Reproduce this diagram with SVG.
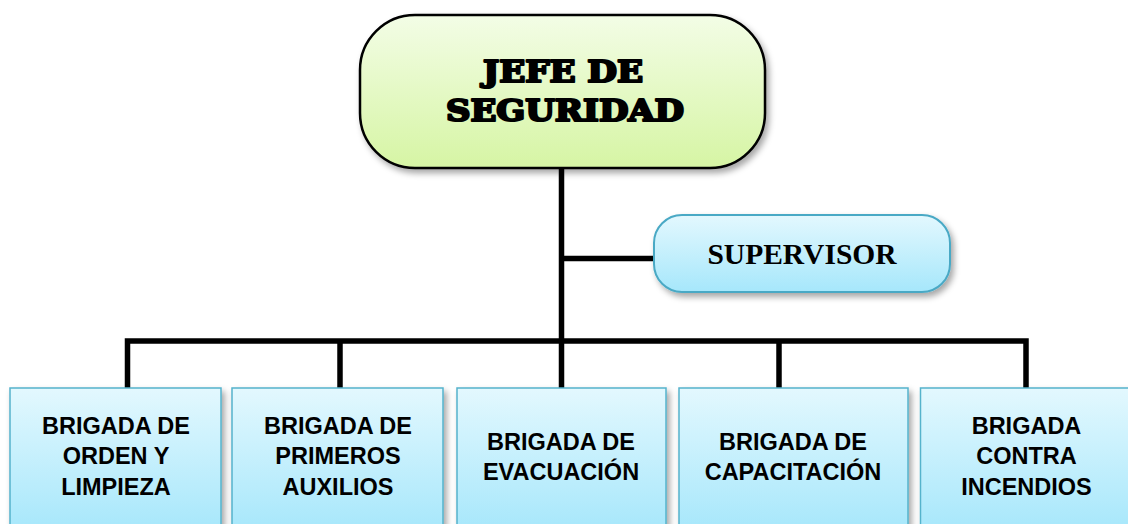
<svg xmlns="http://www.w3.org/2000/svg" width="1128" height="524" viewBox="0 0 1128 524">
  <defs>
    <linearGradient id="gGreen" x1="0" y1="0" x2="0" y2="1">
      <stop offset="0" stop-color="#f3fde6"/>
      <stop offset="1" stop-color="#d6f5a4"/>
    </linearGradient>
    <linearGradient id="gBlue" x1="0" y1="0" x2="0" y2="1">
      <stop offset="0" stop-color="#e3f8fe"/>
      <stop offset="1" stop-color="#a6e7fb"/>
    </linearGradient>
    <filter id="shadow" x="-10%" y="-10%" width="125%" height="130%">
      <feDropShadow dx="3" dy="4" stdDeviation="3" flood-color="#000" flood-opacity="0.35"/>
    </filter>
  </defs>
  <style>
    .conn { fill: none; stroke: #000; stroke-width: 5.5; stroke-linejoin: miter; stroke-linecap: butt; }
    .top { fill: url(#gGreen); stroke: #000; stroke-width: 2.5; filter: url(#shadow); }
    .sup { fill: url(#gBlue); stroke: #4aa9c5; stroke-width: 2; filter: url(#shadow); }
    .brig { fill: url(#gBlue); stroke: #55b3cc; stroke-width: 1.5; filter: url(#shadow); }
    .title { font-family: "DejaVu Serif", "Liberation Serif", serif; font-weight: bold; font-size: 29px; fill: #000; stroke: #000; stroke-width: 2.2; stroke-linejoin: round; text-anchor: middle; }
    .suptxt { font-family: "Liberation Serif", serif; font-weight: bold; font-size: 29.5px; fill: #000; text-anchor: middle; }
    .btxt { font-family: "Liberation Sans", Arial, sans-serif; font-weight: bold; font-size: 23.5px; fill: #000; text-anchor: middle; }
  </style>
  <rect width="1128" height="524" fill="#ffffff"/>

  <g id="connectors">
    <path class="conn" d="M561.5 168 V388"/>
    <path class="conn" d="M561.5 258.5 H655"/>
    <path class="conn" d="M127.5 388 V341 H1026 V388"/>
    <path class="conn" d="M340 341 V388"/>
    <path class="conn" d="M779 341 V388"/>
  </g>

  <g id="jefe">
    <rect class="top" x="360" y="15" width="405" height="153" rx="55" ry="55"/>
    <text class="title" x="563" y="82" textLength="160" lengthAdjust="spacingAndGlyphs">JEFE DE</text>
    <text class="title" x="565" y="121" textLength="238" lengthAdjust="spacingAndGlyphs">SEGURIDAD</text>
  </g>

  <g id="supervisor">
    <rect class="sup" x="654" y="215" width="296" height="77" rx="28" ry="28"/>
    <text class="suptxt" x="802" y="263.5">SUPERVISOR</text>
  </g>

  <g id="brigada-orden">
    <rect class="brig" x="10" y="388" width="211" height="145"/>
    <text class="btxt" x="116" y="434">BRIGADA DE</text>
    <text class="btxt" x="116" y="464">ORDEN Y</text>
    <text class="btxt" x="116" y="494.5">LIMPIEZA</text>
  </g>

  <g id="brigada-primeros">
    <rect class="brig" x="232" y="388" width="211" height="145"/>
    <text class="btxt" x="338" y="434">BRIGADA DE</text>
    <text class="btxt" x="338" y="464">PRIMEROS</text>
    <text class="btxt" x="338" y="494.5">AUXILIOS</text>
  </g>

  <g id="brigada-evacuacion">
    <rect class="brig" x="457" y="388" width="209" height="145"/>
    <text class="btxt" x="561" y="450">BRIGADA DE</text>
    <text class="btxt" x="561" y="480">EVACUACIÓN</text>
  </g>

  <g id="brigada-capacitacion">
    <rect class="brig" x="679" y="388" width="229" height="145"/>
    <text class="btxt" x="793" y="450">BRIGADA DE</text>
    <text class="btxt" x="793" y="480">CAPACITACIÓN</text>
  </g>

  <g id="brigada-incendios">
    <rect class="brig" x="920.5" y="388" width="212" height="145"/>
    <text class="btxt" x="1026.5" y="434">BRIGADA</text>
    <text class="btxt" x="1026.5" y="464">CONTRA</text>
    <text class="btxt" x="1026.5" y="494.5">INCENDIOS</text>
  </g>
</svg>
